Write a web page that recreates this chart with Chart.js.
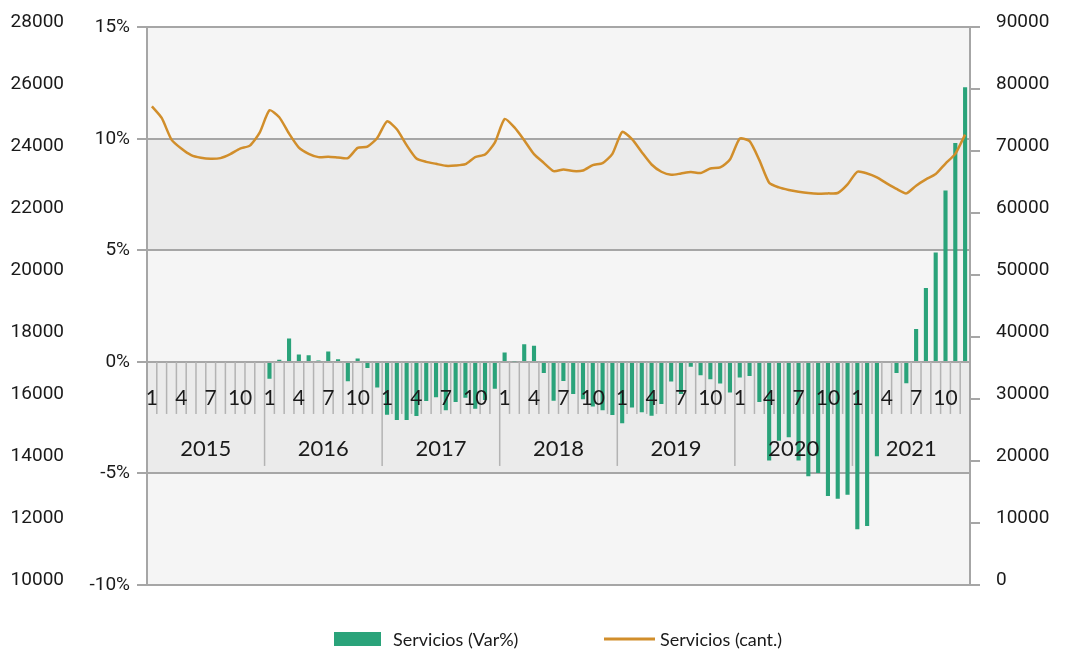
<!DOCTYPE html>
<html>
<head>
<meta charset="utf-8">
<script src="https://cdn.jsdelivr.net/npm/chart.js@4.4.0/dist/chart.umd.min.js"></script>
<style>
  html, body { margin: 0; padding: 0; background: #fff; }
  #wrap { width: 1074px; height: 654px; }
</style>
</head>
<body>
<div id="wrap"><canvas id="chart"></canvas></div>
<script>
const years = [2015, 2016, 2017, 2018, 2019, 2020, 2021];
const months = [1, 2, 3, 4, 5, 6, 7, 8, 9, 10, 11, 12];
const shownMonths = [1, 4, 7, 10];

// Servicios (Var%) - year over year, no data for 2015
const servVar = [
    null, null, null, null, null, null, null, null, null, null, null, null,
    -0.75, 0.1, 1.05, 0.33, 0.3, 0.07, 0.47, 0.12, -0.87, 0.15, -0.27, -1.15,
    -2.37, -2.6, -2.6, -2.42, -1.75, -1.58, -2.17, -1.8, -1.6, -2.1, -1.7, -1.2,
    0.42, 0.03, 0.79, 0.73, -0.5, -1.74, -0.85, -1.44, -1.67, -2.0, -2.16, -2.38,
    -2.75, -2.04, -2.26, -2.41, -1.89, -0.88, -1.44, -0.21, -0.6, -0.77, -0.97, -1.37,
    -0.7, -0.63, -1.79, -4.42, -3.53, -3.38, -4.42, -5.12, -4.98, -6.01, -6.13, -5.95,
    -7.5, -7.35, -4.23, 0, -0.5, -0.95, 1.48, 3.32, 4.91, 7.69, 9.82, 12.32
];

// Servicios (cant.)
const servCant = [
    77250, 75380, 71890, 70440, 69380, 68950, 68790, 68900, 69540, 70440, 70920, 73010,
    76610, 75490, 72850, 70600, 69590, 69060, 69110, 69000, 68900, 70550, 70760, 72160,
    74840, 73560, 70990, 68830, 68300, 67980, 67660, 67710, 67930, 69060, 69480, 71400,
    75210, 73850, 71790, 69540, 68140, 66810, 67070, 66810, 66910, 67770, 68090, 69590,
    73130, 71950, 69860, 67870, 66700, 66210, 66420, 66650, 66490, 67230, 67390, 68670,
    72050, 71630, 68580, 64930, 64170, 63760, 63480, 63270, 63160, 63210, 63270, 64660,
    66700, 66420, 65780, 64820, 63920, 63210, 64450, 65460, 66330, 68030, 69590, 72690
];

const labels = years.flatMap(y => months.map(m => m + '/' + y));

const GREEN = '#2aa37a';
const GOLD = '#d18e2b';
const GRID = '#a6a6a6';
const TEXT = '#1a1a1a';

// bands, month ticks, category labels and legend (Excel-like)
const excelAxis = {
    id: 'excelAxis',
    beforeDraw(chart) {
        const { ctx, chartArea: a, scales: { y } } = chart;
        const stops = [15, 10, 5, 0, -5, -10];
        ctx.save();
        for (let i = 0; i < stops.length - 1; i++) {
            const t = y.getPixelForValue(stops[i]);
            const b = y.getPixelForValue(stops[i + 1]);
            ctx.fillStyle = i % 2 ? '#ebebeb' : '#f5f5f5';
            ctx.fillRect(a.left, t, a.right - a.left, b - t);
        }
        ctx.restore();
    },
    beforeDatasetsDraw(chart) {
        const { ctx, scales: { x, y } } = chart;
        const y0 = y.getPixelForValue(0);
        ctx.save();
        ctx.strokeStyle = '#b3b3b3';
        ctx.lineWidth = 1.5;
        for (let i = 1; i < labels.length; i++) {
            const bx = (x.getPixelForValue(i - 1) + x.getPixelForValue(i)) / 2;
            const len = i % 12 === 0 ? 104 : 52;
            ctx.beginPath();
            ctx.moveTo(bx, y0);
            ctx.lineTo(bx, y0 + len);
            ctx.stroke();
        }
        ctx.restore();
    },
    afterDatasetsDraw(chart) {
        const { ctx, scales: { x, y } } = chart;
        const y0 = y.getPixelForValue(0);
        ctx.save();
        ctx.fillStyle = TEXT;
        ctx.textAlign = 'center';
        ctx.textBaseline = 'middle';
        ctx.font = '21px Lato';
        years.forEach((yr, yi) => {
            shownMonths.forEach(m => {
                ctx.fillText(String(m), x.getPixelForValue(yi * 12 + m - 1), y0 + 36);
            });
        });
        ctx.font = '22px Lato';
        years.forEach((yr, yi) => {
            const cx = (x.getPixelForValue(yi * 12) + x.getPixelForValue(yi * 12 + 11)) / 2;
            ctx.fillText(String(yr), cx, y0 + 87);
        });
        ctx.restore();
    },
    afterDraw(chart) {
        const { ctx } = chart;
        const ds = chart.data.datasets;
        const ly = 639;
        ctx.save();
        ctx.font = '18px Lato';
        ctx.textBaseline = 'middle';
        ctx.textAlign = 'left';
        ctx.fillStyle = ds[0].backgroundColor;
        ctx.fillRect(334, ly - 7, 47, 14);
        ctx.fillStyle = TEXT;
        ctx.fillText(ds[0].label, 393, ly + 1);
        ctx.strokeStyle = ds[1].borderColor;
        ctx.lineWidth = 3;
        ctx.beginPath();
        ctx.moveTo(604, ly);
        ctx.lineTo(655, ly);
        ctx.stroke();
        ctx.fillStyle = TEXT;
        ctx.fillText(ds[1].label, 660, ly + 1);
        ctx.restore();
    }
};

new Chart(document.getElementById('chart'), {
    type: 'bar',
    data: {
        labels: labels,
        datasets: [{
            type: 'bar',
            label: 'Servicios (Var%)',
            data: servVar,
            yAxisID: 'y',
            backgroundColor: GREEN,
            barPercentage: 0.42,
            categoryPercentage: 1,
            order: 1
        }, {
            type: 'line',
            label: 'Servicios (cant.)',
            data: servCant,
            yAxisID: 'y2',
            borderColor: GOLD,
            backgroundColor: GOLD,
            borderWidth: 2.5,
            pointRadius: 0,
            tension: 0.2,
            order: 0
        }]
    },
    options: {
        responsive: true,
        maintainAspectRatio: false,
        animation: false,
        layout: {
            padding: { top: 25, bottom: 69, left: 0, right: 0 }
        },
        scales: {
            x: {
                display: false
            },
            yN: {
                position: 'left',
                weight: 10,
                min: 10000,
                max: 28000,
                grid: { display: false },
                border: { display: false },
                ticks: {
                    stepSize: 2000,
                    padding: 11,
                    labelOffset: -5,
                    color: TEXT,
                    font: { family: 'Roboto', size: 19 },
                    callback: v => String(v)
                },
                afterFit: s => { s.width = 83; }
            },
            y: {
                position: 'left',
                weight: 0,
                min: -10,
                max: 15,
                grid: { color: GRID, lineWidth: 2, tickLength: 10 },
                border: { color: GRID, width: 2 },
                ticks: {
                    stepSize: 5,
                    padding: 7,
                    color: TEXT,
                    font: { family: 'Roboto', size: 19 },
                    callback: v => v + '%'
                },
                afterFit: s => { s.width = 64; }
            },
            y2: {
                position: 'right',
                min: 0,
                max: 90000,
                grid: { drawOnChartArea: false, color: GRID, lineWidth: 2, tickLength: 10 },
                border: { color: GRID, width: 2 },
                ticks: {
                    stepSize: 10000,
                    padding: 16,
                    labelOffset: -5,
                    color: TEXT,
                    font: { family: 'Roboto', size: 19 },
                    callback: v => String(v)
                },
                afterFit: s => { s.width = 104; }
            }
        },
        plugins: {
            legend: { display: false },
            tooltip: { enabled: false }
        }
    },
    plugins: [excelAxis]
});
</script>
</body>
</html>
